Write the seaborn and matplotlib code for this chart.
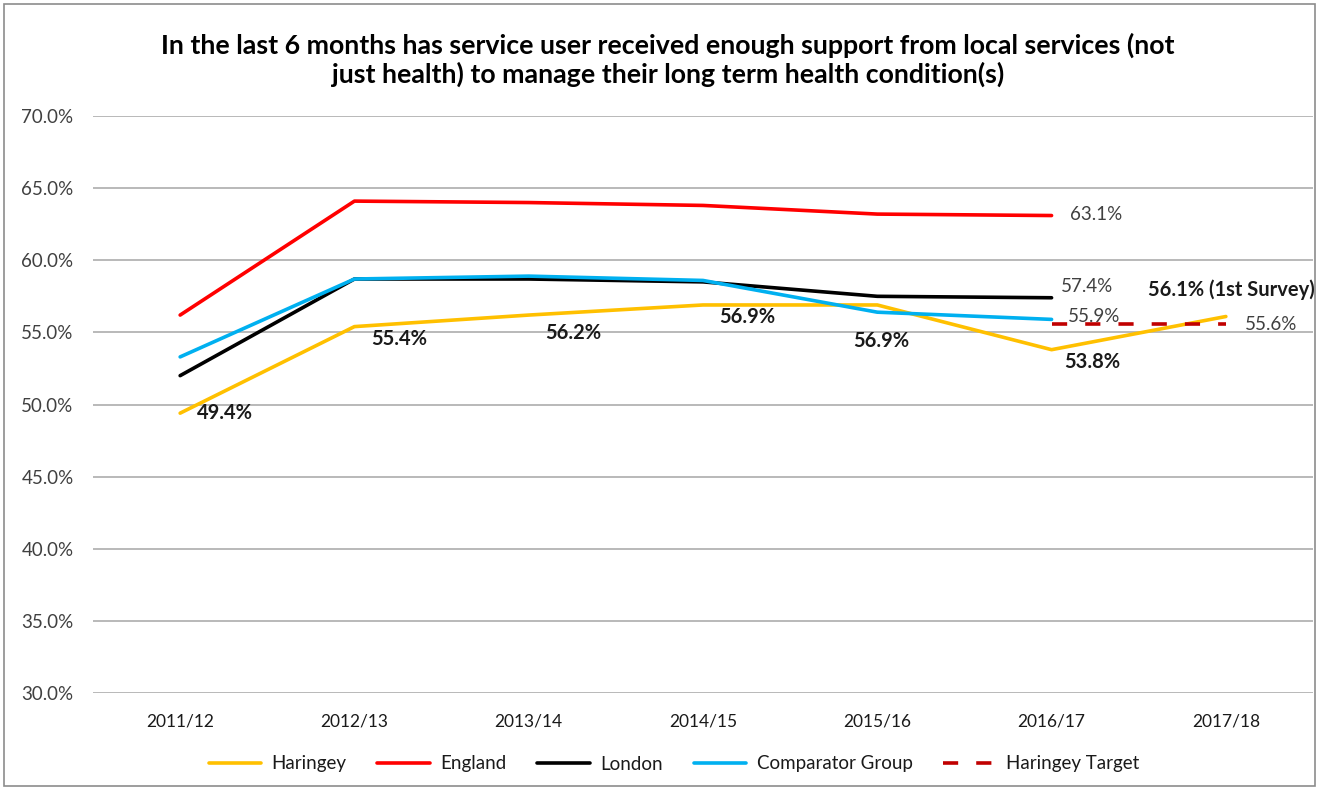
import numpy as np
import pandas as pd
import matplotlib
matplotlib.use("Agg")
import matplotlib.pyplot as plt
import seaborn as sns
from matplotlib.ticker import FuncFormatter
from matplotlib.patches import Rectangle

# chart data (percent)
years = ["2011/12", "2012/13", "2013/14", "2014/15", "2015/16", "2016/17", "2017/18"]
haringey = [49.4, 55.4, 56.2, 56.9, 56.9, 53.8, 56.1]
england = [56.2, 64.1, 64.0, 63.8, 63.2, 63.1]
london = [52.0, 58.7, 58.7, 58.5, 57.5, 57.4]
comparator = [53.3, 58.7, 58.9, 58.6, 56.4, 55.9]
target_years = ["2016/17", "2017/18"]
target = [55.6, 55.6]

haringey_labels = ["49.4%", "55.4%", "56.2%", "56.9%", "56.9%", "53.8%", "56.1% (1st Survey)"]

title = ("In the last 6 months has service user received enough support from local services (not\n"
         "just health) to manage their long term health condition(s)")

sns.set_theme(style="white")
plt.rcParams["font.family"] = ["Lato", "DejaVu Sans"]

fig = plt.figure(figsize=(13.19, 7.89), dpi=100)
ax = fig.add_axes([93 / 1319, 1 - 693 / 789, 1220 / 1319, 577 / 789])

lw = 2.6
sns.lineplot(x=years, y=haringey, color="#FFC000", linewidth=lw, label="Haringey", ax=ax, sort=False)
sns.lineplot(x=years[:len(england)], y=england, color="#FF0000", linewidth=lw, label="England", ax=ax, sort=False)
sns.lineplot(x=years[:len(london)], y=london, color="#000000", linewidth=lw, label="London", ax=ax, sort=False)
sns.lineplot(x=years[:len(comparator)], y=comparator, color="#00B0F0", linewidth=lw,
             label="Comparator Group", ax=ax, sort=False)
sns.lineplot(x=target_years, y=target, color="#C00000", linewidth=lw, label="Haringey Target", ax=ax, sort=False)
ax.lines[-1].set_dashes((4.2, 5.0))

ax.set_ylim(30, 70)
ax.set_xlim(-0.5, len(years) - 0.5)
ax.set_yticks(np.arange(30, 70.1, 5))
ax.yaxis.set_major_formatter(FuncFormatter(lambda v, p: f"{v:.1f}%"))
ax.grid(axis="y", color="#a6a6a6", linewidth=1.1)
ax.grid(axis="x", visible=False)
for s in ax.spines.values():
    s.set_visible(False)
ax.tick_params(axis="y", length=0, pad=14, labelsize=13.5, labelcolor="#404040")
ax.tick_params(axis="x", length=0, pad=15, labelsize=12.5, labelcolor="#1a1a1a")
ax.set_xlabel("")
ax.set_ylabel("")

# Haringey data labels (bold)
h_offsets = [(32, 0), (32, -9), (32, -13), (32, -9), (3, -26), (29, -9), (4, 19)]
for i, (val, txt) in enumerate(zip(haringey, haringey_labels)):
    ax.annotate(txt, (i, val), xytext=h_offsets[i], textcoords="offset points",
                ha="center", va="center", fontsize=14.5, fontweight="bold", color="#1a1a1a")

# end labels for the other series
last = len(england) - 1
ax.annotate(f"{england[-1]:.1f}%", (last, england[-1]), xytext=(13, 0.5), textcoords="offset points",
            ha="left", va="center", fontsize=13.5, color="#404040")
ax.annotate(f"{london[-1]:.1f}%", (last, london[-1]), xytext=(6.5, 8), textcoords="offset points",
            ha="left", va="center", fontsize=13.5, color="#404040")
ax.annotate(f"{comparator[-1]:.1f}%", (last, comparator[-1]), xytext=(11.5, 2), textcoords="offset points",
            ha="left", va="center", fontsize=13.5, color="#404040")
ax.annotate(f"{target[-1]:.1f}%", (len(years) - 1, target[-1]), xytext=(14, -0.5), textcoords="offset points",
            ha="left", va="center", fontsize=13.5, color="#404040")

ax.legend_.remove()
handles, labels = ax.get_legend_handles_labels()
fig.legend(handles, labels, loc="center", bbox_to_anchor=(674 / 1319, 1 - 764 / 789), ncol=5,
           frameon=False, fontsize=13.5, handlelength=2.8, handletextpad=0.55, columnspacing=1.65,
           labelcolor="#1a1a1a")

fig.text(668 / 1319, 1 - 60 / 789, title, ha="center", va="center", fontsize=19.3,
         fontweight="bold", linespacing=1.2, color="#000000")

# chart border
fig.patches.append(Rectangle((4 / 1319, 3 / 789), 1311 / 1319, 782 / 789, transform=fig.transFigure,
                             fill=False, edgecolor="#8c8c8c", linewidth=1.2))

fig.savefig("out.png", dpi=100)
